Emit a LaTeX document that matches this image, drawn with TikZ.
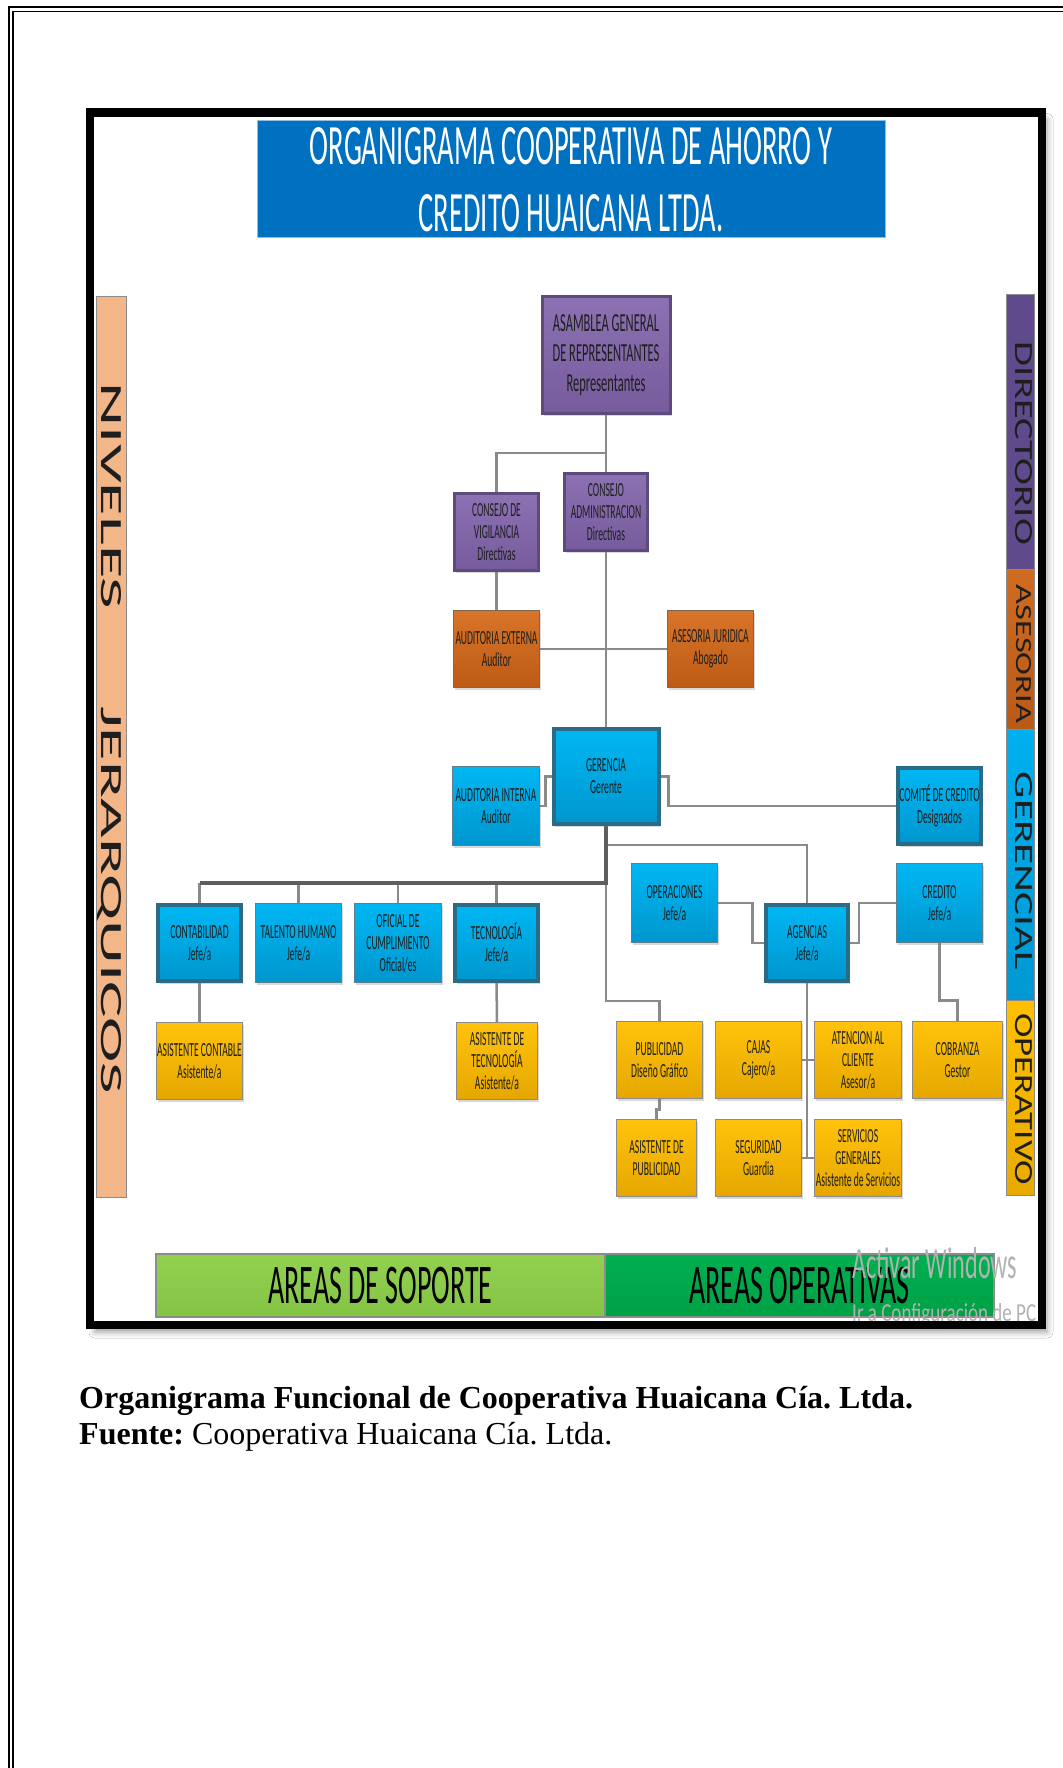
\documentclass[tikz,border=0pt]{standalone}
\usepackage{fontspec}
\usepackage{graphicx}
\usetikzlibrary{shadows,shadows.blur}
\pgfdeclarelayer{back}
\pgfdeclarelayer{links}
\pgfsetlayers{back,links,main}
\frenchspacing

\newfontfamily\cond[FakeStretch=0.5]{Carlito}
\newfontfamily\condbox[FakeStretch=0.48]{Carlito}
\newfontfamily\plainc{Carlito}
\newfontfamily\capserif{Liberation Serif}
\newcommand\boxtxt{\condbox\fontsize{20}{22}\selectfont}

\definecolor{titleblue}{HTML}{0070C0}
\definecolor{txtdark}{HTML}{1E1E1E}
\definecolor{purT}{HTML}{8C72B2}
\definecolor{purB}{HTML}{765C9C}
\definecolor{purD}{HTML}{5C4B7C}
\definecolor{orT}{HTML}{D8752A}
\definecolor{orB}{HTML}{BD5B15}
\definecolor{orD}{HTML}{7E6656}
\definecolor{blT}{HTML}{00B7F3}
\definecolor{blB}{HTML}{0096CE}
\definecolor{blD}{HTML}{5F7E8E}
\definecolor{blK}{HTML}{2A6B88}
\definecolor{yeT}{HTML}{FFC30C}
\definecolor{yeB}{HTML}{E5A700}
\definecolor{yeD}{HTML}{8A8A8A}
\definecolor{lineg}{HTML}{8A8A8A}
\definecolor{lined}{HTML}{5E5E5E}
\definecolor{barPur}{HTML}{5F4B8B}
\definecolor{barOrT}{HTML}{D06C20}
\definecolor{barOrB}{HTML}{BA5A17}
\definecolor{barBlT}{HTML}{00B0F0}
\definecolor{barBlB}{HTML}{0098D2}
\definecolor{barYeT}{HTML}{FFC000}
\definecolor{barYeB}{HTML}{E8AA00}
\definecolor{barPeach}{HTML}{F2B689}
\definecolor{barEdge}{HTML}{8C8C8C}
\definecolor{greenL}{HTML}{92D050}
\definecolor{greenLB}{HTML}{84C444}
\definecolor{greenD}{HTML}{00B050}
\definecolor{greenDB}{HTML}{00A046}

\tikzset{
  orgbox/.style={rectangle, inner xsep=0.5pt, inner ysep=1pt, outer sep=0pt,
    align=center, font=\boxtxt, text=txtdark,
    drop shadow={shadow xshift=1.5pt, shadow yshift=-2.5pt, opacity=0.3}},
  dims/.style 2 args={minimum width=#1, minimum height=#2},
  purplebox/.style={orgbox, top color=purT, bottom color=purB, draw=purD, line width=3pt},
  orangebox/.style={orgbox, top color=orT, bottom color=orB, draw=orD, line width=1.5pt},
  bluebox/.style={orgbox, top color=blT, bottom color=blB, draw=blD, line width=1.5pt},
  blueboxdark/.style={bluebox, draw=blK, line width=4pt},
  yellowbox/.style={orgbox, top color=yeT, bottom color=yeB, draw=yeD, line width=1.5pt},
  conn/.style={draw=lineg, line width=2.5pt},
  conndark/.style={draw=lined, line width=3.2pt},
  sidebar/.style={draw=barEdge, line width=1pt},
  sidetext/.style={rotate=-90, inner sep=0pt, text=txtdark, font=\plainc},
  areabar/.style={rectangle, inner sep=0pt, outer sep=0pt, draw=barEdge, line width=1.5pt,
    font=\cond\fontsize{56}{60}\selectfont, text=black},
  watermark/.style={inner sep=0pt, anchor=base west, font=\plainc, text=black!30},
  caption/.style={inner sep=0pt, anchor=base west, font=\capserif\fontsize{32}{36}\selectfont, text=black}
}

\begin{document}
\begin{tikzpicture}[x=1pt,y=-1pt]
\useasboundingbox (0,0) rectangle (1062,1768);

% page, double border and the framed chart area
\begin{pgfonlayer}{back}
  \fill[white] (0,0) rectangle (1062,1768);
  \draw[line width=2.5pt] (1080,7) -- (9,7) -- (9,1790);
  \draw[line width=1.5pt] (1080,11.5) -- (13,11.5) -- (13,1790);
  \path[fill=white, blur shadow={shadow xshift=5pt, shadow yshift=-7pt, shadow blur radius=6pt}]
    (90,112.5) rectangle (1042,1325);
\end{pgfonlayer}

% title banner
\node[rectangle, fill=titleblue, draw=titleblue!45, line width=1pt, minimum width=628, minimum height=117,
  inner sep=0pt, align=center, text=white, font=\cond\fontsize{57}{67}\selectfont] (title) at (571,179.5)
  {ORGANIGRAMA COOPERATIVA DE AHORRO Y\\CREDITO HUAICANA LTDA.};

% hierarchy bars at the sides
\filldraw[sidebar, fill=barPeach] (96,297) rectangle (126,1197);
\node[sidetext] (lblniv) at (109,738.5) {\resizebox{711pt}{20pt}{NIVELES\hspace{1.42em}JERARQUICOS}};

\filldraw[sidebar, fill=barPur] (1006,295) rectangle (1034,569);
\filldraw[sidebar, top color=barOrT, bottom color=barOrB] (1006,569) rectangle (1034,729);
\filldraw[sidebar, top color=barBlT, bottom color=barBlB] (1006,729) rectangle (1034,1000);
\filldraw[sidebar, top color=barYeT, bottom color=barYeB] (1006,1000) rectangle (1034,1195);
\node[sidetext] (lbldir) at (1024,443.5) {\resizebox{203pt}{17pt}{DIRECTORIO}};
\node[sidetext] (lblase) at (1024,654) {\resizebox{138pt}{15pt}{ASESORIA}};
\node[sidetext] (lblger) at (1024,871) {\resizebox{198pt}{17pt}{GERENCIAL}};
\node[sidetext] (lblope) at (1024,1099) {\resizebox{172pt}{17pt}{OPERATIVO}};

% directorate
\node[purplebox, dims={128}{117}, font=\condbox\fontsize{26}{30}\selectfont] (asam) at (606,355)
  {ASAMBLEA GENERAL\\DE REPRESENTANTES\\Representantes};
\node[purplebox, dims={84}{77}] (cvig) at (496.5,532) {CONSEJO DE\\VIGILANCIA\\Directivas};
\node[purplebox, dims={83}{77}] (cadm) at (606,512) {CONSEJO\\ADMINISTRACION\\Directivas};

% advisory
\node[orangebox, dims={86}{77}] (audext) at (496.5,649) {AUDITORIA EXTERNA\\Auditor};
\node[orangebox, dims={86}{77}] (asejur) at (710.5,649) {ASESORIA JURIDICA\\Abogado};

% management
\node[blueboxdark, dims={105}{95}] (ger) at (606,776.5) {GERENCIA\\Gerente};
\node[bluebox, dims={87}{79}] (audint) at (496,806) {AUDITORIA INTERNA\\Auditor};
\node[blueboxdark, dims={83}{76}] (comite) at (939.5,806) {COMITÉ DE CREDITO\\Designados};
\node[blueboxdark, dims={83}{76}] (contab) at (199.5,943) {CONTABILIDAD\\Jefe/a};
\node[bluebox, dims={86}{79}] (talento) at (298.5,943) {TALENTO HUMANO\\Jefe/a};
\node[bluebox, dims={87}{79}] (oficial) at (398,943) {OFICIAL DE\\CUMPLIMIENTO\\Oficial/es};
\node[blueboxdark, dims={83}{76}] (tecno) at (496.5,943) {TECNOLOGÍA\\Jefe/a};
\node[bluebox, dims={86}{79}] (operac) at (674.5,903) {OPERACIONES\\Jefe/a};
\node[blueboxdark, dims={82}{76}] (agenc) at (807,943) {AGENCIAS\\Jefe/a};
\node[bluebox, dims={86}{79}] (credito) at (939.5,903) {CREDITO\\Jefe/a};

% operational level
\node[yellowbox, dims={86}{77}] (asicont) at (199.5,1061) {ASISTENTE CONTABLE\\Asistente/a};
\node[yellowbox, dims={81}{77}] (asitec) at (497,1061) {ASISTENTE DE\\TECNOLOGÍA\\Asistente/a};
\node[yellowbox, dims={86}{77}] (public) at (659.5,1060) {PUBLICIDAD\\Diseño Gráfico};
\node[yellowbox, dims={80}{77}] (asipub) at (656.5,1158) {ASISTENTE DE\\PUBLICIDAD};
\node[yellowbox, dims={86}{77}] (cajas) at (758.5,1060) {CAJAS\\Cajero/a};
\node[yellowbox, dims={87}{77}] (atenc) at (858,1060) {ATENCION AL\\CLIENTE\\Asesor/a};
\node[yellowbox, dims={90}{77}] (cobranza) at (957.5,1060) {COBRANZA\\Gestor};
\node[yellowbox, dims={86}{77}] (segur) at (758.5,1158) {SEGURIDAD\\Guardia};
\node[yellowbox, dims={87}{77}] (servg) at (858,1158) {SERVICIOS\\GENERALES\\Asistente de Servicios};

% junction points on the trunks
\coordinate (j1) at (606,453);
\coordinate (j2) at (606,845);
\coordinate (j3) at (606,883);
\coordinate (j4) at (606,1001);
\coordinate (j5) at (807,1158);

\begin{pgfonlayer}{links}
  \draw[conn] (asam.south) -- (cadm.north);
  \draw[conn] (j1) -| (cvig.north);
  \draw[conn] (cvig.south) -- (audext.north);
  \draw[conn] (audext.east) -- (asejur.west);
  \draw[conn] (cadm.south) -- (ger.north);
  \draw[conn] (audint.east) -- ++(6,0) |- (ger.west);
  \draw[conn] (ger.east) -- ++(10,0) |- (comite.west);
  \draw[conn] (j2) -| (agenc.north);
  \draw[conn] (j3) -- (j4) -| (public.north);
  \draw[conn] (talento.north |- j3) -- (talento.north);
  \draw[conn] (oficial.north |- j3) -- (oficial.north);
  \draw[conn] (tecno.north |- j3) -- (tecno.north);
  \draw[conn] (contab.north |- j3) -- (contab.north);
  \draw[conndark] (ger.south) -- (j3) -- (contab.north |- j3);
  \draw[conn] (operac.east) -- ++(35,0) |- (agenc.west);
  \draw[conn] (agenc.east) -- ++(11,0) |- (credito.west);
  \draw[conn] (contab.south) -- (asicont.north);
  \draw[conn] (tecno.south) -- (asitec.north);
  \draw[conn] (public.south) -- ++(0,11) -| (asipub.north);
  \draw[conn] (agenc.south) -- (j5);
  \draw[conn] (cajas.east) -- (atenc.west);
  \draw[conn] (segur.east) -- (servg.west);
  \draw[conn] (credito.south) -- ++(0,58) -| (cobranza.north);
\end{pgfonlayer}

% support and operational areas
\node[areabar, top color=greenL, bottom color=greenLB, minimum width=449, minimum height=63] (soporte)
  at (380.5,1285.5) {AREAS DE SOPORTE};
\node[areabar, top color=greenD, bottom color=greenDB, minimum width=389, minimum height=63] (operativas)
  at (799.5,1285.5) {AREAS OPERATIVAS};

% system watermark over the chart
\node[watermark] (wm1) at (852,1278) {\resizebox{165pt}{31pt}{Activar Windows}};
\node[watermark] (wm2) at (852,1321) {\resizebox{184pt}{18pt}{Ir a Configuración de PC}};

% chart frame
\draw[line width=8.5pt] (90,112.5) rectangle (1042,1325);

% caption
\node[caption] (cap1) at (79,1408) {\textbf{Organigrama Funcional de Cooperativa Huaicana Cía. Ltda.}};
\node[caption] (cap2) at (79,1444) {\textbf{Fuente:} Cooperativa Huaicana Cía. Ltda.};
\end{tikzpicture}
\end{document}
